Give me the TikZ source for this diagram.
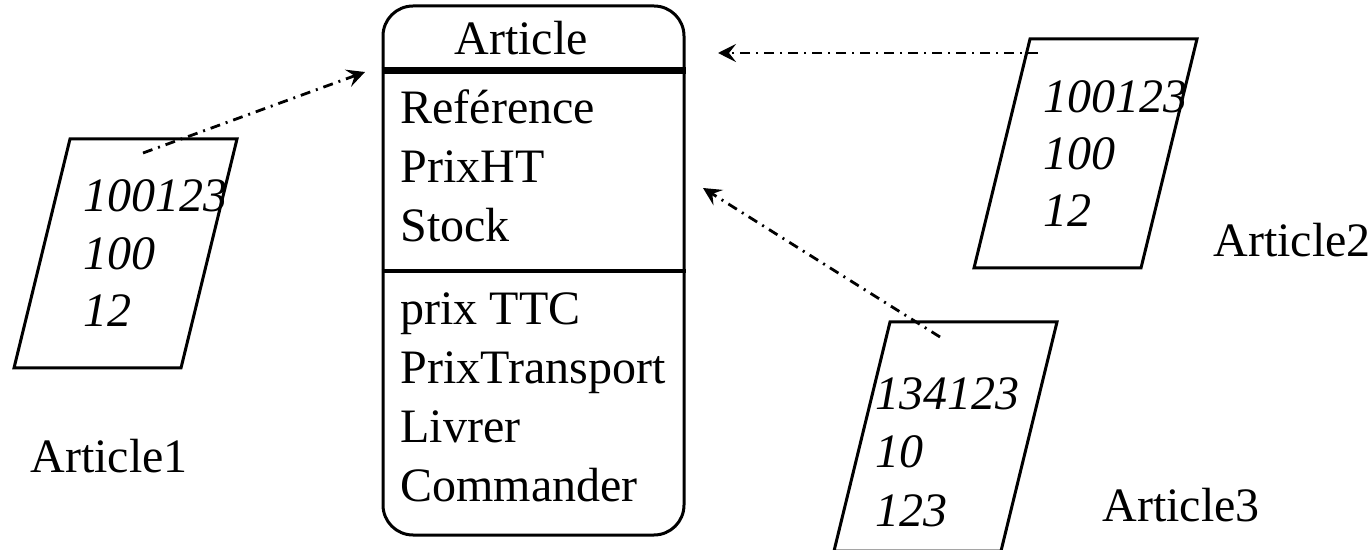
\documentclass[tikz,border=0pt]{standalone}
\usepackage{fontspec}
\setmainfont{Liberation Serif}
\usetikzlibrary{arrows.meta}
\begin{document}
\begin{tikzpicture}
[x=0.5pt,y=-0.5pt,
  classdecorate/.style={shape=rectangle,rounded corners=15pt,draw,line width=1.5pt,
    minimum width=150.5pt,minimum height=264.5pt,inner sep=0pt},
  objdecorate/.style={draw,line width=1.5pt,line join=miter},
  textdecorate/.style={anchor=base west,inner sep=0pt,font=\fontsize{24}{28}\selectfont},
  valuedecorate/.style={textdecorate,font=\fontsize{24}{28}\selectfont\itshape},
  linkdecorate/.style={line width=1.4pt,dash pattern=on 5pt off 3pt on 1pt off 3pt,
    -{Stealth[length=9pt,width=9pt,inset=3.5pt]}}]
\useasboundingbox (0,0) rectangle (1371,550);
%% class box
\node (article) at (533.5,270.5) [classdecorate] {};
\node (title) at (521,55) [textdecorate,anchor=base] {Article};
\draw[line width=3.5pt] (article.west |- 0,71) -- (article.east |- 0,71);
\draw[line width=2.2pt] (article.west |- 0,271) -- (article.east |- 0,271);
\foreach \nodename/\y/\txt in {ref/124/Reférence, prixht/183/PrixHT, stock/242/Stock,
    prixttc/325/prix TTC, transport/384/PrixTransport, livrer/443/Livrer,
    commander/502/Commander} {
  \node (\nodename) at (400,\y) [textdecorate] {\txt};
}
%% objects
\foreach \objname/\x/\y in {obj1/70/139, obj2/1030/39, obj3/890/322} {
  \coordinate (\objname) at (\x,\y);
  \draw[objdecorate] (\objname) -- ++(167,0) -- ++(-56,229) -- ++(-167,0) -- cycle;
}
\foreach \nodename/\x/\y/\txt in {v1a/83/212/100123, v1b/83/269.5/100, v1c/83/327/12,
    v2a/1043/113/100123, v2b/1043/170/100, v2c/1043/227/12,
    v3a/875/410/134123, v3b/875/468/10, v3c/875/526/123} {
  \node (\nodename) at (\x,\y) [valuedecorate] {\txt};
}
\foreach \nodename/\x/\y/\txt in {lab1/30/473/Article1, lab2/1213/257/Article2,
    lab3/1102/522/Article3} {
  \node (\nodename) at (\x,\y) [textdecorate] {\txt};
}
%% links
\coordinate (s1) at (143,153); \coordinate (e1) at (365,72);
\coordinate (s2) at (1038,53); \coordinate (e2) at (718,53);
\coordinate (s3) at (940,337); \coordinate (e3) at (703,188);
\path
\foreach \startnode/\endnode in {s1/e1, s2/e2, s3/e3} {
  (\startnode) edge[linkdecorate] (\endnode)
};
\end{tikzpicture}
\end{document}
